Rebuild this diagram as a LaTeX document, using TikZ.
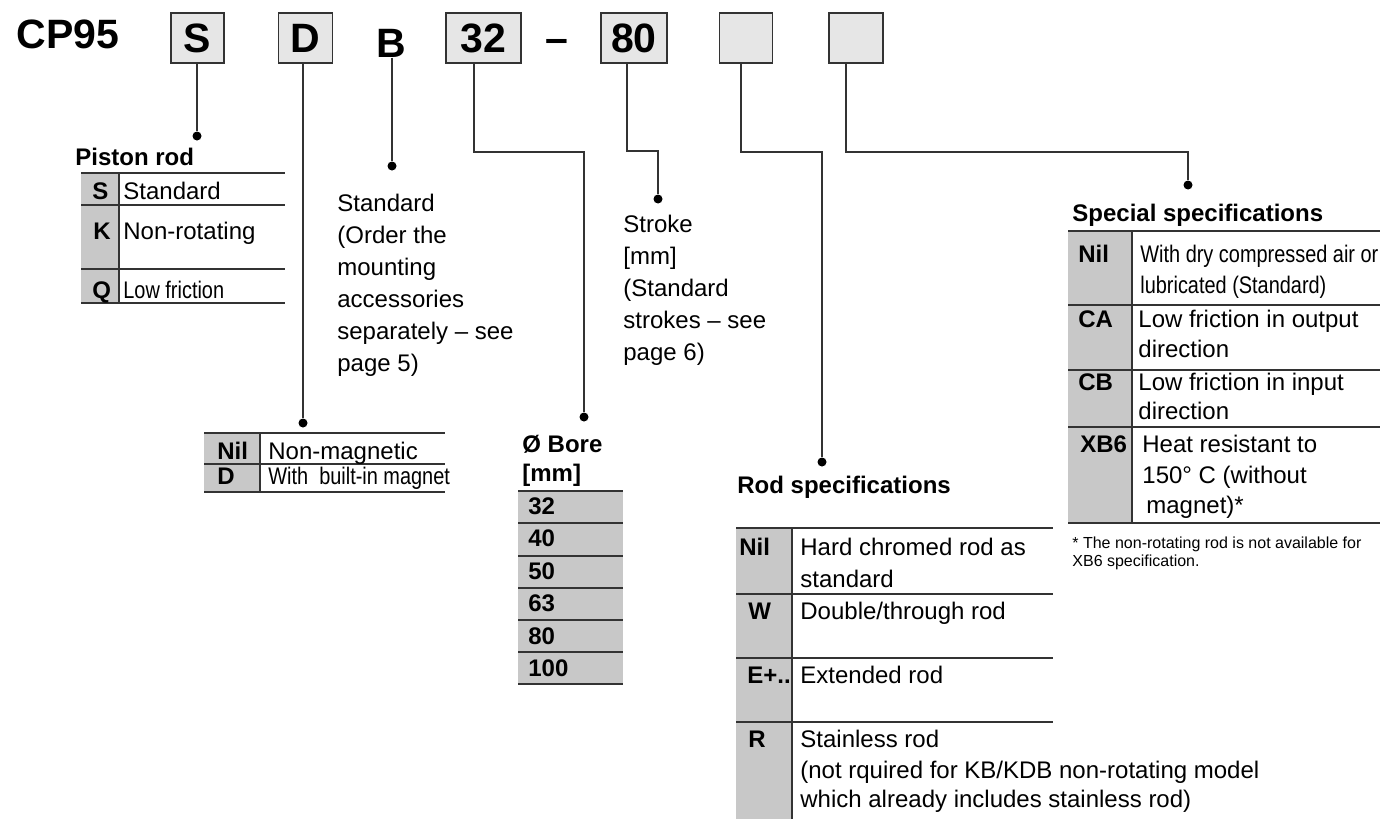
\documentclass[tikz,border=0pt]{standalone}
\usepackage{fontspec}
\setmainfont{Liberation Sans}
\newfontfamily\narrowfont[FakeStretch=0.83]{Liberation Sans}
\usepackage{xcolor}
\usetikzlibrary{positioning}
\definecolor{boxgray}{HTML}{E6E6E6}
\definecolor{colgray}{HTML}{C8C8C8}
\definecolor{linegray}{HTML}{333333}

\begin{document}
\begin{tikzpicture}[x=0.5pt,y=-0.5pt,
  code box/.style={draw=linegray,line width=0.8pt,fill=boxgray,inner sep=0pt,minimum height=25pt,font=\fontsize{20.5}{24}\selectfont\bfseries},
  big/.style={inner sep=0pt,font=\fontsize{20.5}{24}\selectfont\bfseries},
  dot/.style={circle,fill=black,inner sep=0pt,minimum size=4.5pt},
  lead/.style={draw=linegray,line width=0.7pt},
  txt/.style={anchor=base west,inner sep=0pt,font=\fontsize{12}{16}\selectfont},
  key/.style={txt,font=\fontsize{12}{16}\selectfont\bfseries},
  rule/.style={draw=linegray,line width=0.7pt},
  note/.style={anchor=base west,inner sep=0pt,font=\fontsize{8}{9}\selectfont}]

 \useasboundingbox (0,0) rectangle (1383,819);

 \node[big] (title) at (68,34) {CP95};
 \node[code box,minimum width=26.5pt] (sbox) at (197.5,38) {S};
 \node[code box,minimum width=27pt] (dbox) [right=26.5pt of sbox] {D};
 \node[big] (bletter) at (391,43) {B};
 \node[code box,minimum width=37.5pt] (b32) [right=56pt of dbox] {32};
 \node[big,anchor=base] (dash) at (557,52) {\textendash};
 \node[code box,minimum width=33pt] (b80) [right=39pt of b32] {80};
 \node[code box,minimum width=26.5pt] (rodbox) [right=25.5pt of b80] {};
 \node[code box,minimum width=27pt] (specbox) [right=27.5pt of rodbox] {};

 \node[dot] (sdot) at (197,136) {};
 \node[dot] (ddot) at (303,423) {};
 \node[dot] (bdot) at (392,166) {};
 \node[dot] (boredot) at (584,417) {};
 \node[dot] (strokedot) at (658,199) {};
 \node[dot] (roddot) at (822,462) {};
 \node[dot] (specdot) at (1188,185) {};

 \coordinate (k32) at (474,152);
 \coordinate (k80) at (627,151);
 \coordinate (krod) at (741,152);
 \coordinate (kspec) at (846,152);

 \draw[lead] (sbox.south -| sdot) -- (sdot);
 \draw[lead] (dbox.south -| ddot) -- (ddot);
 \draw[lead] (bletter.south -| bdot) -- (bdot);
 \draw[lead] (b32.south -| k32) -- (k32) -| (boredot);
 \draw[lead] (b80.south -| k80) -- (k80) -| (strokedot);
 \draw[lead] (rodbox.south -| krod) -- (krod) -| (roddot);
 \draw[lead] (specbox.south -| kspec) -- (kspec) -| (specdot);

 % piston rod
 \node[key] (pistonhd) at (75,165) {Piston rod};
 \fill[colgray] (81,173) rectangle (119,303);
 \foreach \y in {173,205,269,303} \draw[rule] (81,\y) -- (285,\y);
 \draw[rule] (119,173) -- (119,303);
 \node[key] (ps) at (92,199) {S};
 \node[txt] (pst) at (123,199) {Standard};
 \node[key] (pk) at (93,239) {K};
 \node[txt] (pkt) at (123,239) {Non-rotating};
 \node[key] (pq) at (92,298) {Q};
 \node[txt] (pqt) at (123,298) {\narrowfont Low friction};

 % magnet
 \fill[colgray] (204,433) rectangle (260,492);
 \foreach \y in {433,464,492} \draw[rule] (204,\y) -- (445,\y);
 \draw[rule] (260,433) -- (260,492);
 \node[key] (dnil) at (217,459) {Nil};
 \node[txt] (dnilt) at (268,459) {Non-magnetic};
 \node[key] (dd) at (217,484) {D};
 \node[txt] (ddt) at (268,484) {\narrowfont With\ \ built-in magnet};

 % mounting
 \node[txt] (b1) at (337,211) {Standard};
 \node[txt] (b2) at (337,243) {(Order the};
 \node[txt] (b3) at (337,275) {mounting};
 \node[txt] (b4) at (337,307) {accessories};
 \node[txt] (b5) at (337,339) {separately \textendash{} see};
 \node[txt] (b6) at (337,371) {page 5)};

 % bore
 \node[key] (borehd) at (522,452) {Ø Bore};
 \node[key] (boremm) at (522,481) {[mm]};
 \fill[colgray] (518,491) rectangle (623,684);
 \foreach \y in {491,523,556,588,620,652,684} \draw[rule] (518,\y) -- (623,\y);
 \foreach \n [count=\i] in {32,40,50,63,80,100}
   \node[key] (bore\i) at (528,{482+32.4*\i}) {\n};

 % stroke
 \node[txt] (st1) at (623,232) {Stroke};
 \node[txt] (st2) at (623,264) {[mm]};
 \node[txt] (st3) at (623,296) {(Standard};
 \node[txt] (st4) at (623,328) {strokes \textendash{} see};
 \node[txt] (st5) at (623,360) {page 6)};

 % rod specifications
 \node[key] (rodhd) at (737,493) {Rod specifications};
 \fill[colgray] (736,528) rectangle (792,819);
 \foreach \y in {528,594,658,722} \draw[rule] (736,\y) -- (1053,\y);
 \draw[rule] (792,528) -- (792,819);
 \node[key] (rnil) at (739,555) {Nil};
 \node[txt] (rnilt) at (800,555) {Hard chromed rod as};
 \node[txt] (rnilu) at (800,587) {standard};
 \node[key] (rw) at (748,619) {W};
 \node[txt] (rwt) at (800,619) {Double/through rod};
 \node[key] (re) at (747,683) {E+..};
 \node[txt] (ret) at (800,683) {Extended rod};
 \node[key] (rr) at (748,747) {R};
 \node[txt] (rrt) at (800,747) {Stainless rod};
 \node[txt] (rru) at (800,778) {(not rquired for KB/KDB non-rotating model};
 \node[txt] (rrv) at (800,807) {which already includes stainless rod)};

 % special specifications
 \node[key] (spechd) at (1072,221) {Special specifications};
 \fill[colgray] (1068,231) rectangle (1132,523);
 \foreach \y in {231,305,370,427,523} \draw[rule] (1068,\y) -- (1380,\y);
 \draw[rule] (1132,231) -- (1132,523);
 \node[key] (snil) at (1078,262) {Nil};
 \node[txt] (snilt) at (1140,262) {\narrowfont With dry compressed air or};
 \node[txt] (snilu) at (1140,293) {\narrowfont lubricated (Standard)};
 \node[key] (sca) at (1078,327) {CA};
 \node[txt] (scat) at (1138,327) {Low friction in output};
 \node[txt] (scau) at (1138,357) {direction};
 \node[key] (scb) at (1078,390) {CB};
 \node[txt] (scbt) at (1138,390) {Low friction in input};
 \node[txt] (scbu) at (1138,419) {direction};
 \node[key] (sxb) at (1080,452) {XB6};
 \node[txt] (sxbt) at (1142,452) {Heat resistant to};
 \node[txt] (sxbu) at (1142,483) {150° C (without};
 \node[txt] (sxbv) at (1146,513) {magnet)*};
 \node[note] (fn1) at (1072,548) {* The non-rotating rod is not available for};
 \node[note] (fn2) at (1072,566) {XB6 specification.};

\end{tikzpicture}
\end{document}
